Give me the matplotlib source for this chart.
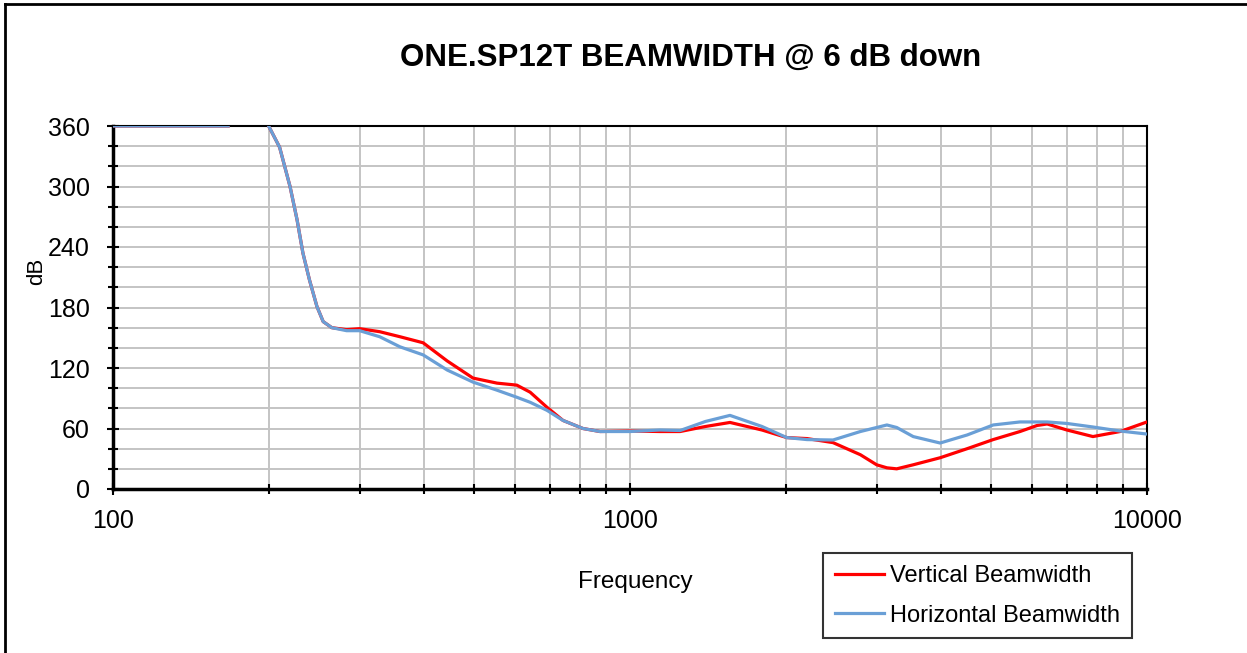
import matplotlib.pyplot as plt
import numpy as np
from matplotlib.ticker import MultipleLocator, LogLocator, NullFormatter, FixedLocator

plt.rcParams['font.family'] = ['Liberation Sans', 'DejaVu Sans']

# Frequencies (Hz) and beamwidths
freq = [100, 125, 150, 167, 180, 200, 210, 220, 227, 233, 240, 248, 255, 265, 283,
        300, 328, 359, 398, 443, 497, 553, 604, 641, 691, 742, 811, 875, 1000,
        1143, 1250, 1400, 1561, 1800, 2010, 2200, 2470, 2790, 3000, 3140, 3280,
        3530, 3980, 4490, 5040, 5680, 6130, 6410, 7000, 7860, 8870, 10000]
vertical = [360, 360, 360, 360, np.nan, 360, 339, 300, 267, 234, 207, 181, 166, 160, 158,
            159, 156, 151, 145, 127, 110, 105, 103, 96, 81, 68, 60, 57, 57.5,
            57, 57, 62, 66, 58.5, 51, 50, 46, 34, 24, 21, 20,
            24, 31, 40, 49, 57, 63, 64.5, 58.5, 52, 57, 66.5]
horizontal = [360, 360, 360, 360, np.nan, 360, 339, 300, 267, 234, 207, 181, 166, 160, 157,
              157, 151, 141, 133, 118, 106, 98, 91, 86, 78, 68, 60, 57, 57,
              58.5, 58, 67, 73, 62, 51, 49, 48.6, 57, 61, 63.5, 61,
              52, 45.6, 53.6, 63.5, 66.5, 66.5, 66.5, 65, 61.5, 57.5, 54.5]

fig = plt.figure(figsize=(12.47, 6.53), dpi=100)
ax = fig.add_axes([113 / 1247, 1 - 489 / 653, 1034 / 1247, 363 / 653])

ax.plot(freq, vertical, color='#ff0000', lw=2.3, label='Vertical Beamwidth',
        solid_joinstyle='round', zorder=3)
ax.plot(freq, horizontal, color='#6a9fd6', lw=2.3, label='Horizontal Beamwidth',
        solid_joinstyle='round', zorder=4)

ax.set_xscale('log')
ax.set_xlim(100, 10000)
ax.set_ylim(0, 360)

ax.xaxis.set_major_locator(FixedLocator([100, 1000, 10000]))
ax.xaxis.set_minor_locator(LogLocator(base=10, subs=np.arange(2, 10)))
ax.xaxis.set_minor_formatter(NullFormatter())
ax.set_xticklabels(['100', '1000', '10000'])
ax.yaxis.set_major_locator(MultipleLocator(60))
ax.yaxis.set_minor_locator(MultipleLocator(20))

ax.grid(True, which='both', color='#c4c4c4', lw=1.4, zorder=0)
ax.set_axisbelow(True)

ax.tick_params(which='both', direction='inout', color='black', width=1.5)
ax.tick_params(which='major', length=9, labelsize=18)
ax.tick_params(which='minor', length=7)
ax.tick_params(axis='x', pad=10)
ax.tick_params(axis='y', pad=12)

for side in ['left', 'bottom']:
    ax.spines[side].set_linewidth(2.5)
for side in ['top', 'right']:
    ax.spines[side].set_linewidth(1.5)

ax.set_ylabel('dB', fontsize=16)
ax.yaxis.set_label_coords(-0.064, 0.6)
ax.set_xlabel('Frequency', fontsize=17.5)
ax.xaxis.set_label_coords(0.505, -0.225)

fig.text(691 / 1247, 1 - 58 / 653, 'ONE.SP12T BEAMWIDTH @ 6 dB down', ha='center', va='center',
         fontsize=22.5, fontweight='bold')

leg = fig.legend(loc='upper left', bbox_to_anchor=(823 / 1247, 1 - 553 / 653), fontsize=17,
                 frameon=True, fancybox=False, edgecolor='black', handlelength=2.1,
                 handletextpad=0.25, labelspacing=0.75, borderpad=0.5, borderaxespad=0)
leg.get_frame().set_linewidth(1.5)

# partial outer border, as in the source image
fig.add_artist(plt.Line2D([5 / 1247, 5 / 1247], [0, 1 - 4 / 653], color='black', lw=2))
fig.add_artist(plt.Line2D([5 / 1247, 1], [1 - 4 / 653, 1 - 4 / 653], color='black', lw=2))

fig.savefig('out.png', dpi=100)
